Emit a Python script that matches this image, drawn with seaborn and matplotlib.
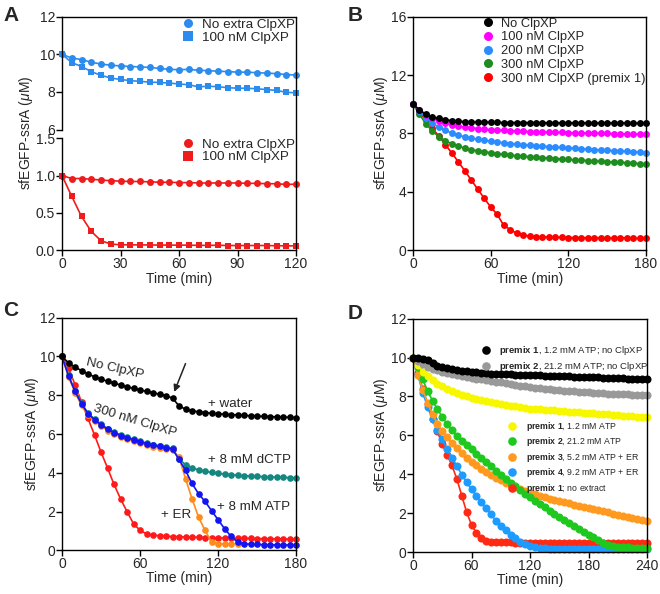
import numpy as np
import matplotlib
matplotlib.use("Agg")
import matplotlib.pyplot as plt
from matplotlib.lines import Line2D
import seaborn as sns

# Zeitachsen (alle 5 min)
tA = np.arange(0, 125, 5)
tB = np.arange(0, 185, 5)
tC = np.arange(0, 185, 5)
tC_er = np.arange(0, 140, 5)
tD = np.arange(0, 245, 5)

# Panel A
a_blue_none = [10.0, 9.8, 9.72, 9.58, 9.48, 9.42, 9.38, 9.35, 9.33, 9.3,
               9.25, 9.2, 9.18, 9.2, 9.15, 9.13, 9.1, 9.08, 9.05, 9.05,
               9.02, 9.0, 8.97, 8.92, 8.9]
a_blue_100 = [10.0, 9.56, 9.35, 9.08, 8.88, 8.74, 8.66, 8.6, 8.56, 8.52,
              8.5, 8.47, 8.42, 8.38, 8.27, 8.3, 8.28, 8.22, 8.2, 8.19,
              8.17, 8.12, 8.08, 7.98, 7.95]
a_red_none = [1.0, 0.96, 0.96, 0.95, 0.94, 0.93, 0.925, 0.92, 0.92, 0.915,
              0.91, 0.91, 0.905, 0.905, 0.9, 0.9, 0.9, 0.9, 0.9, 0.895,
              0.895, 0.89, 0.89, 0.88, 0.885]
a_red_100 = [1.0, 0.72, 0.45, 0.25, 0.125, 0.08, 0.07, 0.07, 0.068, 0.068,
             0.066, 0.066, 0.065, 0.065, 0.062, 0.062, 0.064, 0.06, 0.06, 0.06,
             0.06, 0.06, 0.057, 0.056, 0.055]

# Panel B
b_none = [10.0, 9.6, 9.3, 9.12, 9.02, 8.93, 8.87, 8.83, 8.8, 8.78,
          8.77, 8.76, 8.75, 8.75, 8.74, 8.74, 8.74, 8.74, 8.73, 8.73,
          8.73, 8.72, 8.72, 8.72, 8.72, 8.71, 8.71, 8.71, 8.71, 8.7,
          8.7, 8.7, 8.7, 8.7, 8.69, 8.69, 8.69]
b_100 = [10.0, 9.62, 9.28, 9.02, 8.83, 8.68, 8.57, 8.49, 8.43, 8.38,
         8.33, 8.29, 8.25, 8.22, 8.2, 8.18, 8.16, 8.14, 8.12, 8.11,
         8.1, 8.08, 8.07, 8.06, 8.05, 8.04, 8.03, 8.02, 8.01, 8.0,
         7.99, 7.98, 7.97, 7.96, 7.95, 7.94, 7.93]
b_200 = [10.0, 9.52, 9.08, 8.72, 8.42, 8.2, 8.02, 7.87, 7.76, 7.66,
         7.58, 7.51, 7.45, 7.4, 7.35, 7.3, 7.26, 7.22, 7.18, 7.15,
         7.12, 7.09, 7.06, 7.03, 7.0, 6.97, 6.94, 6.91, 6.89, 6.86,
         6.84, 6.81, 6.79, 6.76, 6.74, 6.71, 6.68]
b_300 = [10.0, 9.3, 8.65, 8.15, 7.78, 7.5, 7.28, 7.12, 6.99, 6.89,
         6.8, 6.73, 6.67, 6.61, 6.56, 6.51, 6.47, 6.43, 6.4, 6.36,
         6.33, 6.3, 6.27, 6.24, 6.21, 6.18, 6.16, 6.13, 6.11, 6.08,
         6.06, 6.03, 6.01, 5.98, 5.96, 5.93, 5.9]
b_premix = [10.0, 9.45, 8.9, 8.35, 7.8, 7.22, 6.65, 6.05, 5.43, 4.8,
            4.17, 3.55, 2.95, 2.45, 1.7, 1.4, 1.15, 1.0, 0.95, 0.92,
            0.9, 0.88, 0.87, 0.86, 0.85, 0.85, 0.84, 0.84, 0.83, 0.83,
            0.82, 0.82, 0.81, 0.81, 0.8, 0.8, 0.8]

# Panel C
c_none = [10.0, 9.67, 9.45, 9.27, 9.1, 8.95, 8.83, 8.72, 8.62, 8.53,
          8.44, 8.35, 8.27, 8.2, 8.13, 8.05, 7.97, 7.85, 7.45, 7.28,
          7.2, 7.14, 7.1, 7.07, 7.04, 7.02, 7.0, 6.98, 6.96, 6.94,
          6.92, 6.91, 6.9, 6.88, 6.87, 6.86, 6.84]
c_atp = [10.0, 9.0, 8.2, 7.55, 7.05, 6.74, 6.48, 6.25, 6.07, 5.92,
         5.8, 5.7, 5.6, 5.5, 5.42, 5.36, 5.3, 5.22, 4.69, 4.12,
         3.45, 2.92, 2.52, 2.05, 1.58, 1.12, 0.72, 0.43, 0.34, 0.31,
         0.3, 0.29, 0.28, 0.28, 0.27, 0.27, 0.26]
c_dctp = [10.0, 9.02, 8.23, 7.58, 7.08, 6.77, 6.51, 6.28, 6.1, 5.95,
          5.83, 5.73, 5.63, 5.53, 5.45, 5.39, 5.33, 5.26, 4.7, 4.42,
          4.25, 4.15, 4.07, 4.02, 3.97, 3.93, 3.9, 3.87, 3.85, 3.83,
          3.81, 3.8, 3.78, 3.77, 3.76, 3.75, 3.74]
c_er = [10.0, 8.95, 8.14, 7.48, 6.98, 6.67, 6.41, 6.18, 6.0, 5.85,
        5.73, 5.63, 5.53, 5.43, 5.35, 5.29, 5.23, 5.16, 4.8, 3.7,
        2.66, 1.72, 1.03, 0.43, 0.34, 0.33, 0.33, 0.33]
c_premix = [10.0, 9.4, 8.55, 7.65, 6.8, 5.95, 5.07, 4.25, 3.4, 2.66,
            2.0, 1.37, 1.03, 0.85, 0.78, 0.75, 0.73, 0.71, 0.7, 0.69,
            0.68, 0.67, 0.66, 0.65, 0.64, 0.63, 0.63, 0.62, 0.61, 0.61,
            0.6, 0.6, 0.59, 0.59, 0.58, 0.58, 0.57]

# Panel D
d_p1_none = [10.0, 10.0, 9.95, 9.85, 9.7, 9.58, 9.5, 9.45, 9.4, 9.36,
             9.33, 9.3, 9.27, 9.25, 9.22, 9.2, 9.18, 9.16, 9.15, 9.14,
             9.13, 9.12, 9.1, 9.1, 9.09, 9.08, 9.08, 9.07, 9.06, 9.05,
             9.05, 9.04, 9.03, 9.02, 9.01, 9.0, 9.0, 8.99, 8.98, 8.97,
             8.96, 8.95, 8.94, 8.93, 8.92, 8.92, 8.91, 8.9, 8.88]
d_p2_none = [10.0, 9.82, 9.65, 9.52, 9.42, 9.34, 9.27, 9.2, 9.14, 9.09,
             9.04, 9.0, 8.96, 8.92, 8.88, 8.84, 8.8, 8.76, 8.72, 8.68,
             8.64, 8.6, 8.56, 8.52, 8.48, 8.44, 8.41, 8.38, 8.36, 8.34,
             8.32, 8.3, 8.28, 8.26, 8.24, 8.22, 8.21, 8.19, 8.18, 8.17,
             8.15, 8.14, 8.13, 8.12, 8.11, 8.1, 8.09, 8.07, 8.05]
d_p1 = [10.0, 9.62, 9.28, 9.03, 8.83, 8.66, 8.52, 8.39, 8.28, 8.18,
        8.09, 8.01, 7.94, 7.88, 7.82, 7.76, 7.71, 7.66, 7.61, 7.57,
        7.53, 7.49, 7.45, 7.41, 7.38, 7.36, 7.34, 7.32, 7.3, 7.28,
        7.26, 7.24, 7.22, 7.21, 7.19, 7.17, 7.16, 7.14, 7.12, 7.1,
        7.08, 7.06, 7.04, 7.02, 7.0, 6.98, 6.96, 6.94, 6.92]
d_p2 = [10.0, 9.5, 8.88, 8.27, 7.78, 7.35, 6.95, 6.58, 6.25, 5.95,
        5.73, 5.5, 5.28, 5.06, 4.84, 4.62, 4.4, 4.19, 3.98, 3.77,
        3.57, 3.37, 3.18, 3.0, 2.82, 2.64, 2.46, 2.29, 2.12, 1.96,
        1.8, 1.64, 1.49, 1.34, 1.19, 1.04, 0.9, 0.76, 0.61, 0.48,
        0.38, 0.31, 0.27, 0.25, 0.24, 0.23, 0.23, 0.22, 0.22]
d_p3 = [10.0, 9.1, 8.35, 7.65, 7.1, 6.6, 6.22, 5.9, 5.6, 5.33,
        5.08, 4.86, 4.65, 4.46, 4.28, 4.12, 3.97, 3.83, 3.7, 3.56,
        3.45, 3.34, 3.24, 3.14, 3.05, 2.97, 2.89, 2.82, 2.75, 2.68,
        2.62, 2.56, 2.5, 2.44, 2.39, 2.33, 2.28, 2.22, 2.16, 2.1,
        2.04, 1.98, 1.92, 1.86, 1.81, 1.76, 1.71, 1.66, 1.62]
d_p4 = [10.0, 9.1, 8.2, 7.45, 6.85, 6.3, 5.8, 5.28, 4.85, 4.42,
        3.98, 3.6, 3.22, 2.88, 2.55, 2.24, 1.93, 1.62, 1.35, 1.12,
        0.9, 0.7, 0.53, 0.4, 0.31, 0.25, 0.21, 0.19, 0.18, 0.17,
        0.17, 0.17, 0.16, 0.16, 0.16, 0.16, 0.16, 0.16, 0.15, 0.15,
        0.15, 0.15, 0.15, 0.15, 0.15, 0.15, 0.15, 0.15, 0.15]
d_p1_noext = [10.0, 9.2, 8.4, 7.6, 6.85, 6.2, 5.55, 5.0, 4.45, 3.75,
              2.9, 2.05, 1.4, 0.98, 0.72, 0.57, 0.5, 0.5, 0.49, 0.49,
              0.49, 0.48, 0.48, 0.48, 0.48, 0.47, 0.47, 0.47, 0.47, 0.47,
              0.46, 0.46, 0.46, 0.46, 0.46, 0.46, 0.45, 0.45, 0.45, 0.45,
              0.45, 0.45, 0.45, 0.44, 0.44, 0.44, 0.44, 0.44, 0.44]

sns.set_style("ticks")
plt.rcParams['font.family'] = ['Liberation Sans', 'DejaVu Sans']
plt.rcParams['mathtext.fontset'] = 'custom'
plt.rcParams['mathtext.rm'] = 'Liberation Sans'
plt.rcParams['mathtext.it'] = 'Liberation Sans:italic'
plt.rcParams['mathtext.bf'] = 'Liberation Sans:bold'

W, H = 660, 594
fig = plt.figure(figsize=(6.6, 5.94), dpi=100)


def ax_px(l, t, r, b):
    return fig.add_axes([l / W, 1 - b / H, (r - l) / W, (b - t) / H])


def series(ax, t, y, color, marker='o', ms=5.0):
    sns.lineplot(x=t, y=y, ax=ax, color=color, marker=marker, markersize=ms,
                 markeredgewidth=0, linewidth=1.2, clip_on=False,
                 legend=False, errorbar=None)


def style(ax):
    for s in ax.spines.values():
        s.set_linewidth(1.0)
        s.set_color('black')
    ax.tick_params(direction='out', length=4, width=1, labelsize=10, pad=1,
                   color='black')
    ax.set_xlabel('')
    ax.set_ylabel('')


def put_legend(ax, handles, labels, mx, my, pitch, fs, gap):
    fpx = fs * 100 / 72
    hl = 1.0
    row_h = 1.12 * fpx
    leg = ax.legend(handles, labels, loc='upper left',
                    bbox_to_anchor=((mx - hl * fpx / 2) / W, 1 - (my - row_h / 2) / H),
                    bbox_transform=fig.transFigure, frameon=False, fontsize=fs,
                    handlelength=hl, handletextpad=(gap - hl * fpx / 2) / fpx,
                    labelspacing=max(pitch - row_h, 0) / fpx,
                    borderpad=0, borderaxespad=0)
    return leg


def dot(c, m='o', ms=6.5):
    return Line2D([], [], ls='none', marker=m, color=c, markersize=ms,
                  markeredgewidth=0)


ylab = 'sfEGFP-ssrA ($\\mu$M)'

# ---------- A ----------
blueA = '#2B8CEE'
redA = '#EE1C1C'
axA1 = ax_px(62, 16.7, 296, 129.5)
axA2 = ax_px(62, 138.3, 296, 250)
series(axA1, tA, a_blue_100, blueA, 's')
series(axA1, tA, a_blue_none, blueA, 'o')
series(axA2, tA, a_red_100, redA, 's')
series(axA2, tA, a_red_none, redA, 'o')
for ax in (axA1, axA2):
    style(ax)
    ax.set_xlim(0, 120)
    ax.spines['right'].set_visible(False)
axA1.set_ylim(6, 12)
axA1.set_yticks([6, 8, 10, 12])
axA1.spines['bottom'].set_visible(False)
axA1.set_xticks([])
axA2.set_ylim(0, 1.5)
axA2.set_yticks([0, 0.5, 1.0, 1.5])
axA2.set_yticklabels(['0.0', '0.5', '1.0', '1.5'])
axA2.set_xticks([0, 30, 60, 90, 120])
axA2.spines['top'].set_visible(False)
fig.add_artist(Line2D([296 / W, 296 / W], [1 - 250 / H, 1 - 16.7 / H],
                      transform=fig.transFigure, color='black', lw=1.0))
put_legend(axA1, [dot(blueA), dot(blueA, 's')], ['No extra ClpXP', '100 nM ClpXP'],
           188, 25.7, 16, 9.7, 13.7)
put_legend(axA2, [dot(redA), dot(redA, 's')], ['No extra ClpXP', '100 nM ClpXP'],
           188, 145.7, 15.5, 9.7, 13.7)
fig.text(26 / W, 1 - 133 / H, ylab, rotation=90, ha='center', va='center', fontsize=10)
fig.text(179 / W, 1 - 279 / H, 'Time (min)', ha='center', va='center', fontsize=10)

# ---------- B ----------
colB = ['#000000', '#FF00FF', '#2A8CFF', '#1E8C1E', '#FF0000']
axB = ax_px(413, 16.7, 646, 250)
series(axB, tB, b_premix, colB[4])
series(axB, tB, b_300, colB[3])
series(axB, tB, b_200, colB[2])
series(axB, tB, b_100, colB[1])
series(axB, tB, b_none, colB[0])
style(axB)
axB.set_xlim(0, 180)
axB.set_ylim(0, 16)
axB.set_xticks([0, 60, 120, 180])
axB.set_yticks([0, 4, 8, 12, 16])
put_legend(axB, [dot(c) for c in colB],
           ['No ClpXP', '100 nM ClpXP', '200 nM ClpXP', '300 nM ClpXP',
            '300 nM ClpXP (premix 1)'],
           488.3, 25, 16.1, 9.3, 12.4)
fig.text(381 / W, 1 - 133 / H, ylab, rotation=90, ha='center', va='center', fontsize=10)
fig.text(530 / W, 1 - 279 / H, 'Time (min)', ha='center', va='center', fontsize=10)

# ---------- C ----------
axC = ax_px(62, 317.7, 296, 550.3)
series(axC, tC, c_premix, '#FF1A1A', ms=4.8)
series(axC, tC, c_dctp, '#14877F', ms=4.8)
series(axC, tC_er, c_er, '#FF8C1A', ms=4.8)
series(axC, tC, c_atp, '#1414F0', ms=4.8)
series(axC, tC, c_none, '#000000', ms=4.8)
style(axC)
axC.set_xlim(0, 180)
axC.set_ylim(0, 12)
axC.set_xticks([0, 60, 120, 180])
axC.set_yticks([0, 2, 4, 6, 8, 10, 12])
fsC = 9.6
axC.text(41, 9.35, 'No ClpXP', rotation=-13, ha='center', va='center', fontsize=fsC)
axC.text(56.5, 6.67, '300 nM ClpXP', rotation=-17, ha='center', va='center', fontsize=fsC)
axC.text(129, 7.56, '+ water', ha='center', va='center', fontsize=fsC)
axC.text(144.6, 4.64, '+ 8 mM dCTP', ha='center', va='center', fontsize=fsC)
axC.text(147.7, 2.23, '+ 8 mM ATP', ha='center', va='center', fontsize=fsC)
axC.text(87.8, 1.8, '+ ER', ha='center', va='center', fontsize=fsC)
axC.annotate('', xy=(86.3, 8.17), xytext=(95, 9.63),
             arrowprops=dict(arrowstyle='-|>', color='#222222', lw=1.1,
                             mutation_scale=10, shrinkA=0, shrinkB=0))
fig.text(32 / W, 1 - 434 / H, ylab, rotation=90, ha='center', va='center', fontsize=10)
fig.text(179 / W, 1 - 578 / H, 'Time (min)', ha='center', va='center', fontsize=10)

# ---------- D ----------
colD = {'p1n': '#000000', 'p2n': '#999999', 'p1': '#F7F700', 'p2': '#1EC81E',
        'p3': '#FF9A1E', 'p4': '#1E9BFF', 'p1x': '#FF2A14'}
axD = ax_px(413, 318.7, 647, 552)
msD = 5.8
series(axD, tD, d_p1_noext, colD['p1x'], ms=msD)
series(axD, tD, d_p4, colD['p4'], ms=msD)
series(axD, tD, d_p3, colD['p3'], ms=msD)
series(axD, tD, d_p2, colD['p2'], ms=msD)
series(axD, tD, d_p1, colD['p1'], ms=msD)
series(axD, tD, d_p2_none, colD['p2n'], ms=msD)
series(axD, tD, d_p1_none, colD['p1n'], ms=msD)
style(axD)
axD.set_xlim(0, 240)
axD.set_ylim(0, 12)
axD.set_xticks([0, 60, 120, 180, 240])
axD.set_yticks([0, 2, 4, 6, 8, 10, 12])
leg1 = put_legend(axD, [dot(colD['p1n'], ms=6.2), dot(colD['p2n'], ms=6.2)],
                  ['$\\mathbf{premix\\ 1}$, 1.2 mM ATP; no ClpXP',
                   '$\\mathbf{premix\\ 2}$, 21.2 mM ATP; no ClpXP'],
                  486, 349.7, 13, 6.8, 13.3)
axD.add_artist(leg1)
put_legend(axD, [dot(colD[k], ms=6.2) for k in ('p1', 'p2', 'p3', 'p4', 'p1x')],
           ['$\\mathbf{premix\\ 1}$, 1.2 mM ATP',
            '$\\mathbf{premix\\ 2}$, 21.2 mM ATP',
            '$\\mathbf{premix\\ 3}$, 5.2 mM ATP + ER',
            '$\\mathbf{premix\\ 4}$, 9.2 mM ATP + ER',
            '$\\mathbf{premix\\ 1}$; no extract'],
           512, 424.7, 12.25, 6.3, 14.5)
fig.text(381 / W, 1 - 435 / H, ylab, rotation=90, ha='center', va='center', fontsize=10)
fig.text(530 / W, 1 - 580 / H, 'Time (min)', ha='center', va='center', fontsize=10)

# Panelbuchstaben
for lab, x, y in [('A', 3, 6), ('B', 348, 6), ('C', 3, 301), ('D', 348, 304)]:
    fig.text(x / W, 1 - y / H, lab, fontsize=15, fontweight='bold', va='top', ha='left')

fig.savefig('out.png', dpi=100)
